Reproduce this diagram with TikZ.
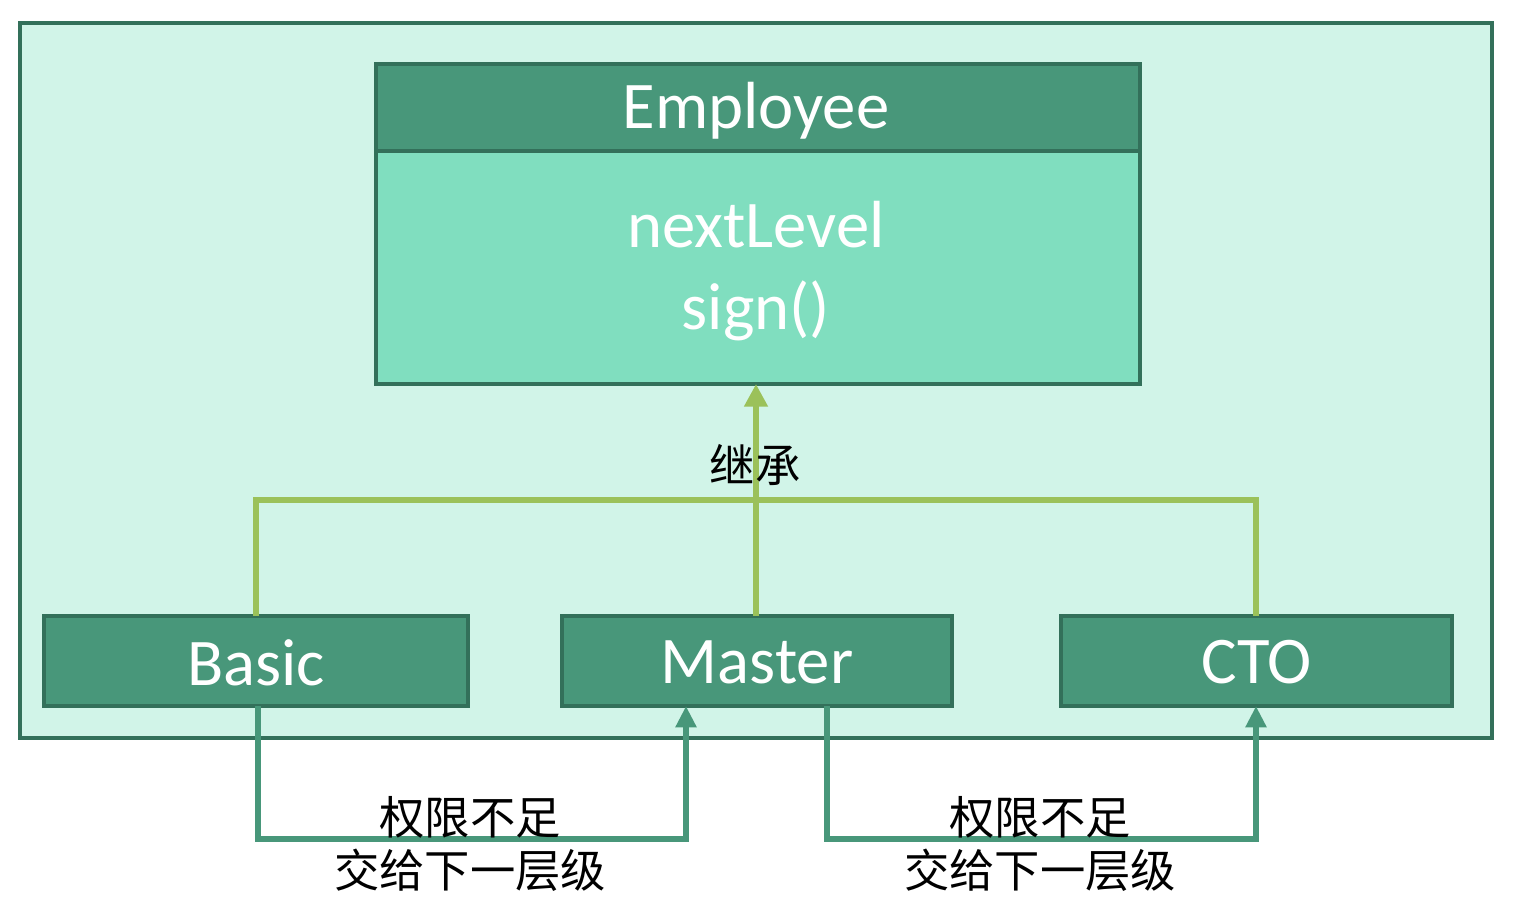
\documentclass[tikz,border=0pt]{standalone}
\usepackage{fontspec}
\setmainfont{Carlito}
\newfontfamily\cjk{Noto Sans CJK SC}
\usetikzlibrary{arrows.meta}
\definecolor{frameC}{HTML}{33705A}
\definecolor{bgC}{HTML}{D1F4E8}
\definecolor{headC}{HTML}{48977A}
\definecolor{bodyC}{HTML}{80DEBF}
\definecolor{inhC}{HTML}{9BC15A}
\definecolor{passC}{HTML}{48977A}
\begin{document}
\begin{tikzpicture}[x=0.75pt,y=-0.75pt,
  boxst/.style={draw=frameC,line width=3pt,inner sep=0pt,outer sep=0pt},
  headst/.style={boxst,fill=headC,text=white,font=\fontsize{50}{54}\selectfont},
  inh/.style={draw=inhC,line width=5pt},
  pass/.style={draw=passC,line width=5pt},
  inhtip/.style={-{Triangle[width=17pt,length=17pt]}},
  passtip/.style={-{Triangle[width=15pt,length=16pt]}},
  lbl/.style={font=\cjk\fontsize{34}{40}\selectfont,text=black,align=center}]
\useasboundingbox (0,0) rectangle (1516,914);
\fill[white] (0,0) rectangle (1516,914);
\node[boxst,fill=bgC,minimum width=1472*0.75pt,minimum height=715*0.75pt,anchor=north west] (frame) at (20,23) {};
% Employee
\node[headst,minimum width=764*0.75pt,minimum height=87*0.75pt,anchor=north west] (emph) at (376,64) {};
\node (emplbl) at (756,111) [text=white,font=\fontsize{50}{54}\selectfont] {Employee};
\node[boxst,fill=bodyC,minimum width=764*0.75pt,minimum height=233*0.75pt,anchor=north west] (empb) at (376,151) {};
\node[text=white,align=center,font=\fontsize{50}{62}\selectfont] (emptxt) at (756,271) {nextLevel\\sign()};
% subclasses
\node[headst,minimum width=424*0.75pt,minimum height=90*0.75pt,anchor=north west] (basic) at (44,616) {};
\node[text=white,font=\fontsize{50}{54}\selectfont] at (basic.center) [yshift=-1pt] {Basic};
\node[headst,minimum width=390*0.75pt,minimum height=90*0.75pt,anchor=north west] (master) at (562,616) {};
\node[text=white,font=\fontsize{50}{54}\selectfont] at (master.center) [yshift=-1pt] {Master};
\node[headst,minimum width=391*0.75pt,minimum height=90*0.75pt,anchor=north west] (cto) at (1061,616) {};
\node[text=white,font=\fontsize{50}{54}\selectfont] at (cto.center) [yshift=-1pt] {CTO};
% inheritance
\coordinate (hl) at (256,500);
\coordinate (hr) at (1256,500);
\draw[inh] (basic.north -| hl) -- (hl) -- (hr) -- (cto.north -| hr);
\draw[inh,inhtip] (master.north -| 756,0) -- (empb.south -| 756,0);
\node[lbl] (inhl) at (755,465) {继承};
% pass on
\coordinate (b1) at (258,839);
\coordinate (b2) at (686,839);
\coordinate (b3) at (827,839);
\coordinate (b4) at (1256,839);
\draw[pass,passtip] (basic.south -| b1) -- (b1) -- (b2) -- (master.south -| b2);
\draw[pass,passtip] (master.south -| b3) -- (b3) -- (b4) -- (cto.south -| b4);
\node[lbl] (p1) at (470,844) {权限不足\\交给下一层级};
\node[lbl] (p2) at (1040,844) {权限不足\\交给下一层级};
\end{tikzpicture}
\end{document}
